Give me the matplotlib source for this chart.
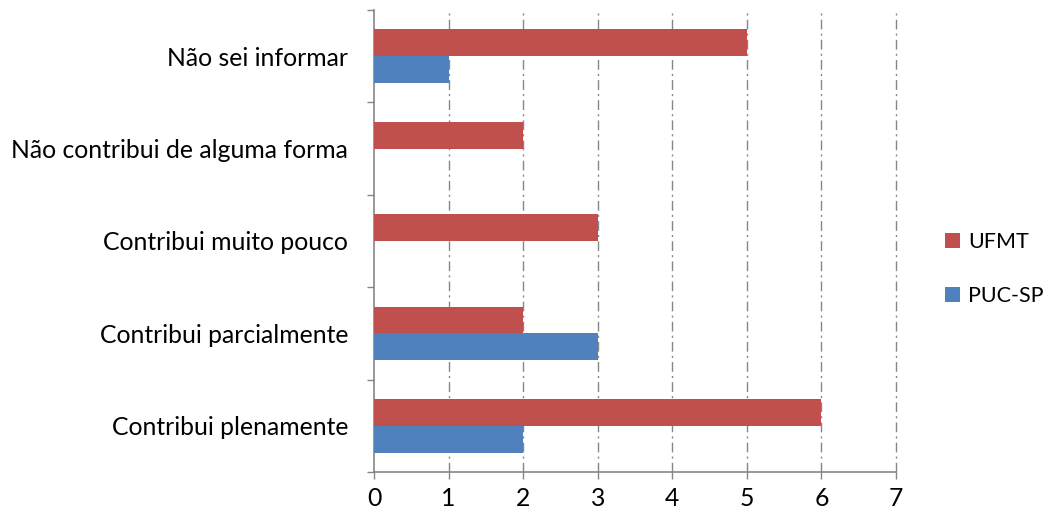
import matplotlib
matplotlib.use("Agg")
import matplotlib.pyplot as plt
import numpy as np

categories = ["Contribui plenamente", "Contribui parcialmente", "Contribui muito pouco",
              "Não contribui de alguma forma", "Não sei informar"]
ufmt = [6, 2, 3, 2, 5]
puc = [2, 3, 0, 0, 1]
x_ticks = [0, 1, 2, 3, 4, 5, 6, 7]

plt.rcParams['font.family'] = ['Lato', 'DejaVu Sans']
FS = 17.8
LFS = 15.5

fig = plt.figure(figsize=(10.48, 5.26), dpi=100)
ax = fig.add_axes([374/1048, 1-472/526, (896-374)/1048, (472-10)/526])

y = np.arange(len(categories))
h = 0.29
red = "#C0504D"
blue = "#4F81BD"
ax.barh(y + h/2, ufmt, height=h, color=red, label="UFMT", zorder=3)
ax.barh(y - h/2, puc, height=h, color=blue, label="PUC-SP", zorder=3)

ax.set_xlim(0, 7)
ax.set_ylim(-0.5, len(categories) - 0.5)
ax.set_xticks(x_ticks)
ax.set_xticklabels([str(v) for v in x_ticks], fontsize=FS)
ax.tick_params(axis='x', length=5, width=1, color="#868686", pad=6, direction='out')

ax.set_yticks(np.arange(-0.5, len(categories), 1.0))
ax.set_yticklabels([])
ax.set_yticks(y, minor=True)
ax.set_yticklabels(categories, minor=True, fontsize=FS)
ax.tick_params(axis='y', which='major', length=5, width=1, color="#868686", direction='out')
ax.tick_params(axis='y', which='minor', length=0, pad=18.5)

for xv in x_ticks[1:]:
    ax.axvline(xv, color="#868686", linestyle=(0, (7, 3, 1.5, 3)), linewidth=1, zorder=1,
               clip_on=False)

for s in ['top', 'right']:
    ax.spines[s].set_visible(False)
for s in ['left', 'bottom']:
    ax.spines[s].set_color("#868686")
    ax.spines[s].set_linewidth(1.2)

ax.legend(loc='center left', bbox_to_anchor=(945/1048, 1-269/526), bbox_transform=fig.transFigure,
          frameon=False, fontsize=LFS, handlelength=0.7, handleheight=0.7, handletextpad=0.37,
          labelspacing=1.55, borderpad=0, borderaxespad=0)

fig.savefig("out.png", dpi=100)
